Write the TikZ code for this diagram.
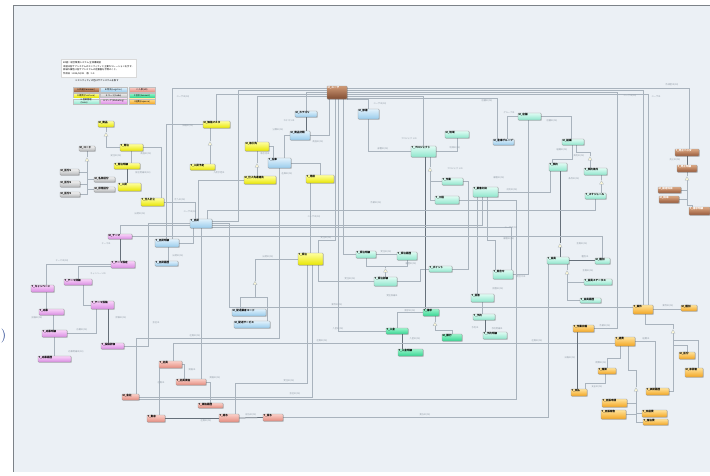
\documentclass[tikz,border=0pt]{standalone}
\usepackage{fontspec}
\newfontfamily\cjk{Noto Sans CJK JP}
\usetikzlibrary{shadows,shapes.geometric}
\pgfdeclarelayer{back}
\pgfdeclarelayer{lines}
\pgfsetlayers{back,lines,main}

\definecolor{bgpanel}{HTML}{EBF0F5}
\definecolor{framec}{HTML}{7C8288}
\definecolor{relc}{HTML}{A9B3BD}
\definecolor{idfc}{HTML}{66707A}
\definecolor{lblc}{HTML}{8F99A3}
\definecolor{brT}{HTML}{DDA984}\definecolor{brB}{HTML}{96593A}
\definecolor{lbT}{HTML}{E2F2FC}\definecolor{lbB}{HTML}{98CBEC}
\definecolor{yeT}{HTML}{FFFFA0}\definecolor{yeB}{HTML}{E8E600}
\definecolor{grT}{HTML}{F2F2F2}\definecolor{grB}{HTML}{B6B8BA}
\definecolor{miT}{HTML}{E0FCF4}\definecolor{miB}{HTML}{8EE6CC}
\definecolor{gnT}{HTML}{9CF4CC}\definecolor{gnB}{HTML}{34D692}
\definecolor{mgT}{HTML}{F9D4F9}\definecolor{mgB}{HTML}{DA8CE3}
\definecolor{saT}{HTML}{FBD0C9}\definecolor{saB}{HTML}{E48B7E}
\definecolor{orT}{HTML}{FFE39A}\definecolor{orB}{HTML}{F3A522}
\definecolor{triF}{HTML}{FBF6D6}
\definecolor{parenc}{HTML}{1D3C8C}

% entity box: name, style, x1, y1, x2, y2, title
\newcommand\entbox[7]{%
  \node[#2, minimum width={(#5)-(#3)}, minimum height={(#6)-(#4)},
        label={[enttxt]north west:#7}] (#1) at ({((#3)+(#5))/2},{((#4)+(#6))/2}) {};}
% brown entity box with light title
\newcommand\entboxw[7]{%
  \node[#2, minimum width={(#5)-(#3)}, minimum height={(#6)-(#4)},
        label={[enttxt, text=white]north west:#7}] (#1) at ({((#3)+(#5))/2},{((#4)+(#6))/2}) {};}

\begin{document}
\begin{tikzpicture}[x=1pt,y=-1pt,
  ent/.style={rectangle, rounded corners=0.6pt, draw=black!40, line width=0.25pt, inner sep=0pt,
              drop shadow={shadow xshift=0.7pt, shadow yshift=-0.7pt, opacity=0.28, fill=black}},
  enttxt/.style={anchor=north west, inner sep=0.6pt, font=\cjk\bfseries\fontsize{2.6}{3}\selectfont, text=black},
  brF/.style={top color=brT, bottom color=brB},
  lbF/.style={top color=lbT, bottom color=lbB},
  yeF/.style={top color=yeT, bottom color=yeB},
  grF/.style={top color=grT, bottom color=grB},
  miF/.style={top color=miT, bottom color=miB},
  gnF/.style={top color=gnT, bottom color=gnB},
  mgF/.style={top color=mgT, bottom color=mgB},
  saF/.style={top color=saT, bottom color=saB},
  orF/.style={top color=orT, bottom color=orB},
  brE/.style={ent, brF}, lbE/.style={ent, lbF}, yeE/.style={ent, yeF},
  grE/.style={ent, grF}, miE/.style={ent, miF}, gnE/.style={ent, gnF},
  mgE/.style={ent, mgF}, saE/.style={ent, saF}, orE/.style={ent, orF},
  swatch/.style={rectangle, draw=black!25, line width=0.2pt, inner sep=0pt, anchor=north west,
                 font=\cjk\fontsize{2.2}{2.5}\selectfont, align=left},
  rel/.style={draw=relc, line width=0.3pt},
  idf/.style={draw=idfc, line width=0.75pt},
  lbl/.style={font=\cjk\fontsize{2.2}{2.5}\selectfont, text=lblc, inner sep=0.3pt},
  tri/.style={regular polygon, regular polygon sides=3, minimum size=4.6pt, inner sep=0pt,
              draw=relc, fill=triF, line width=0.3pt},
  legtxt/.style={font=\cjk\fontsize{2.3}{2.8}\selectfont, anchor=north west, inner sep=0pt, align=left}
]
\useasboundingbox (0,0) rectangle (710,475);
\begin{pgfonlayer}{back}
\fill[white] (0,0) rectangle (710,475);
\fill[bgpanel] (13,5) rectangle (709.5,472);
\draw[framec, line width=0.6pt] (709.5,5) -- (13,5) -- (13,472);
\end{pgfonlayer}

% stray bracket at the left margin
\node[text=parenc, font=\fontsize{14}{14}\selectfont, inner sep=0pt] (paren) at (3.5,336) {)};

% ---------- legend ----------
\node[rectangle, fill=white, draw=black!15, line width=0.2pt, anchor=north west,
      minimum width=75, minimum height=18, inner sep=0pt] (legbox) at (61,59) {};
\node[legtxt] (legt1) at (63,61) {ER図：統合業務システム 全体構成図};
\node[legtxt] (legt2) at (63,65.5)
  {本図は各サブシステムのエンティティと主要なリレーションを示す。\\詳細な属性は各サブシステムの定義書を参照のこと。};
\node[legtxt] (legt3) at (63,72) {作成日：2015/04/01　版：1.0};
\node[legtxt] (legt4) at (75,79.5) {※エンティティの色はサブシステムを表す};
\node[swatch, brF, minimum width=26, minimum height=5] (sw1) at (73,87) {A:共通(Common)};
\node[swatch, lbF, minimum width=27, minimum height=5] (sw2) at (100,87) {B:物流(Logistics)};
\node[swatch, saF, minimum width=26, minimum height=5] (sw3) at (129,87) {C:人事(HR)};
\node[swatch, yeF, minimum width=26, minimum height=4.5] (sw4) at (73,93) {D:購買(Purchase)};
\node[swatch, grF, minimum width=27, minimum height=4.5] (sw5) at (100,93) {E:コード(Code)};
\node[swatch, gnF, minimum width=26, minimum height=4.5] (sw6) at (129,93) {F:会計(Account)};
\node[swatch, miF, minimum width=26, minimum height=5.5] (sw7) at (73,98.5) {G:営業管理\\(Sales)};
\node[swatch, mgF, minimum width=27, minimum height=5.5] (sw8) at (100,98.5) {H:マーケ(Marketing)};
\node[swatch, orF, minimum width=26, minimum height=5.5] (sw9) at (129,98.5) {I:経費(Expense)};

% ---------- entities ----------
\entboxw{B1}{brE, top color=brT!80!brB, bottom color=brB!85!black}{327}{86}{347}{99}{M\_ユーザ}
\entboxw{B2}{brE}{675}{149}{699}{156}{T\_売上ヘッダ}
\entboxw{B3}{brE}{677}{165}{697}{172}{T\_売上明細}
\entboxw{B4}{brE}{658}{187}{681}{193}{M\_勘定科目}
\entboxw{B5}{brE}{659}{196}{679}{203}{M\_税率}
\entboxw{B6}{brE}{689}{207}{710}{215}{T\_請求明細}

\entbox{L1}{lbE}{295}{111}{317}{117}{M\_カテゴリ}
\entbox{L2}{lbE}{358}{109}{379}{119}{M\_部署}
\entbox{L3}{lbE}{290}{131}{310}{140}{M\_商品分類}
\entbox{L4}{lbE}{268}{158}{291}{168}{T\_在庫}
\entbox{L5}{lbE}{493}{139}{514}{145}{M\_倉庫グループ}
\entbox{L6}{lbE}{190}{219}{212}{228}{T\_出荷}
\entbox{L7}{lbE}{155}{239}{179}{247}{T\_出荷明細}
\entbox{L8}{lbE}{155}{261}{178}{266}{T\_出荷履歴}
\entbox{L9}{lbE}{232}{309}{266}{316}{M\_配送業者コード}
\entbox{L10}{lbE}{234}{321}{270}{328}{M\_配送サービス}

\entbox{Y1}{yeE}{98}{121}{114}{127}{M\_商品}
\entbox{Y2}{yeE}{203}{121}{230}{128}{M\_価格マスタ}
\entbox{Y3}{yeE}{120}{144}{143}{151}{T\_発注}
\entbox{Y4}{yeE}{245}{142}{269}{151}{M\_取引先}
\entbox{Y5}{yeE}{114}{163}{140}{169}{T\_発注明細}
\entbox{Y6}{yeE}{190}{164}{215}{170}{T\_入荷予定}
\entbox{Y7}{yeE}{244}{176}{276}{184}{M\_仕入先連絡先}
\entbox{Y8}{yeE}{306}{175}{334}{183}{T\_見積}
\entbox{Y9}{yeE}{118}{183}{141}{191}{T\_入荷}
\entbox{Y10}{yeE}{141}{198}{164}{206}{T\_仕入計上}
\entbox{Y11}{yeE}{298}{253}{323}{265}{T\_受注}

\entbox{G1}{grE}{79}{146}{95}{151}{M\_コード}
\entbox{G2}{grE}{60}{169}{79}{175}{M\_区分1}
\entbox{G3}{grE}{94}{177}{115}{182}{M\_名称区分}
\entbox{G4}{grE}{60}{181}{80}{187}{M\_区分2}
\entbox{G5}{grE}{94}{187}{115}{192}{M\_状態区分}
\entbox{G6}{grE}{60}{192}{80}{197}{M\_区分3}

\entbox{P1}{miE}{518}{113}{541}{120}{M\_店舗}
\entbox{P2}{miE}{445}{131}{469}{138}{M\_地域}
\entbox{P3}{miE}{562}{139}{584}{145}{M\_組織}
\entbox{P4}{miE}{411}{146}{436}{157}{T\_プロジェクト}
\entbox{P5}{miE}{549}{163}{567}{171}{T\_契約}
\entbox{P6}{miE}{584}{168}{607}{175}{T\_契約条件}
\entbox{P7}{miE}{442}{178}{463}{185}{T\_作業}
\entbox{P8}{miE}{473}{187}{498}{197}{T\_顧客対応}
\entbox{P9}{miE}{585}{193}{606}{199}{T\_スケジュール}
\entbox{P10}{miE}{435}{196}{459}{204}{T\_工程}
\entbox{P11}{miE}{356}{251}{376}{258}{T\_受注明細}
\entbox{P12}{miE}{397}{252}{417}{260}{T\_受注履歴}
\entbox{P13}{miE}{547}{257}{569}{264}{T\_会員}
\entbox{P14}{miE}{595}{258}{610}{264}{M\_種別}
\entbox{P15}{miE}{429}{266}{452}{272}{T\_ポイント}
\entbox{P16}{miE}{493}{270}{513}{279}{T\_問合せ}
\entbox{P17}{miE}{374}{277}{397}{286}{T\_受注詳細}
\entbox{P18}{miE}{584}{279}{612}{285}{T\_会員ステータス}
\entbox{P19}{miE}{471}{294}{494}{302}{T\_回答}
\entbox{P20}{miE}{580}{298}{601}{303}{T\_会員履歴}
\entbox{P21}{miE}{473}{314}{495}{320}{T\_予約}
\entbox{P22}{miE}{483}{332}{507}{339}{T\_予約明細}

\entbox{N1}{gnE}{423}{309}{439}{316}{T\_請求}
\entbox{N2}{gnE}{386}{328}{408}{334}{T\_入金}
\entbox{N3}{gnE}{442}{334}{462}{341}{M\_銀行}
\entbox{N4}{gnE}{398}{349}{423}{356}{T\_入金明細}

\entbox{M1}{mgE}{108}{234}{132}{239}{M\_テーマ}
\entbox{M2}{mgE}{111}{261}{135}{268}{T\_テーマ設定}
\entbox{M3}{mgE}{64}{279}{92}{285}{T\_テーマ詳細}
\entbox{M4}{mgE}{31}{285}{54}{292}{T\_キャンペーン}
\entbox{M5}{mgE}{91}{301}{114}{309}{T\_テーマ投稿}
\entbox{M6}{mgE}{39}{309}{64}{315}{T\_応募}
\entbox{M7}{mgE}{42}{330}{67}{337}{T\_応募明細}
\entbox{M8}{mgE}{101}{343}{124}{349}{T\_投稿評価}
\entbox{M9}{mgE}{38}{356}{71}{362}{T\_応募履歴}

\entbox{S1}{saE}{159}{361}{182}{368}{T\_社員}
\entbox{S2}{saE}{176}{379}{206}{385}{T\_社員資格}
\entbox{S3}{saE}{122}{394}{139}{400}{M\_会社}
\entbox{S4}{saE}{198}{403}{223}{408}{T\_資格履歴}
\entbox{S5}{saE}{147}{415}{165}{422}{T\_勤怠}
\entbox{S6}{saE}{219}{414}{239}{422}{T\_給与}
\entbox{S7}{saE}{263}{414}{283}{421}{T\_賞与}

\entbox{O1}{orE}{633}{305}{653}{314}{T\_案件}
\entbox{O2}{orE}{681}{305}{697}{311}{M\_種別}
\entbox{O3}{orE}{573}{325}{594}{332}{T\_作業日報}
\entbox{O4}{orE}{615}{337}{635}{346}{T\_経費}
\entbox{O5}{orE}{679}{352}{695}{359}{M\_区分}
\entbox{O6}{orE}{685}{368}{703}{377}{M\_承認者}
\entbox{O7}{orE}{598}{368}{616}{374}{T\_精算}
\entbox{O8}{orE}{571}{389}{587}{396}{T\_支払}
\entbox{O9}{orE}{646}{388}{669}{395}{T\_承認履歴}
\entbox{O10}{orE}{602}{399}{627}{407}{T\_出張申請}
\entbox{O11}{orE}{601}{410}{626}{419}{T\_出張報告}
\entbox{O12}{orE}{642}{410}{667}{417}{T\_交通費}
\entbox{O13}{orE}{643}{419}{668}{425}{T\_宿泊費}

% ---------- triangles (subtype markers) ----------
\node[tri] (tY1) at (106,135) {};
\node[tri] (tG1) at (87,160) {};
\node[tri] (tY2) at (210,144) {};
\node[tri] (tY4) at (257,166) {};
\node[tri] (tL) at (255,283.5) {};
\node[tri] (tP) at (385.5,271) {};
\node[tri] (tN) at (435,324.5) {};
\node[tri] (tP4) at (430,170) {};
\node[tri] (tP3) at (590,159) {};
\node[tri] (tP6) at (601.5,183) {};
\node[tri] (tP5) at (560,246) {};
\node[tri] (tP13) at (567,273) {};
\node[tri] (tO1) at (673,332) {};
\node[tri] (tO4) at (636,390) {};
\node[tri] (tB3) at (687,179) {};

% ---------- connectors ----------
\begin{pgfonlayer}{lines}
% from the user master
\draw[rel] ([yshift=4pt]B1.west) -| ([xshift=5pt]L7.north);
\draw[rel] ([yshift=2pt]B1.west) -- (238,90.5) |- ([yshift=2pt]L6.east);
\draw[rel] (B1.west) -| (L1.north);
\draw[rel] ([yshift=-2pt]B1.west) -| (Y2.north);
\draw[rel] ([yshift=-4pt]B1.west) -| (Y4.north);
\draw[rel] ([xshift=-1.5pt]B1.south) -- (335.5,240) -| ([xshift=8pt]Y11.north);
\draw[rel] ([xshift=1pt]B1.south) |- (N2.west);
\draw[rel] ([xshift=6pt]B1.south) |- (P11.west);
\draw[rel] (B1.south east) -| (L2.north);
\draw[rel] ([xshift=-8pt]B1.south) |- (L3.east);
\draw[rel] ([yshift=4pt]B1.east) -| ([xshift=2pt]B2.north);
\draw[rel] ([yshift=2pt]B1.east) -| (O1.north);
\draw[rel] (B1.east) -- (617,92.5) |- (O3.east);
\draw[rel] ([yshift=-2pt]B1.east) -| ([xshift=5pt]O1.north);
\draw[rel] ([yshift=-4pt]B1.east) -| (P4.north);
\draw[rel] ([yshift=-5.5pt]B1.east) -| ([xshift=-6pt]L5.north);

% logistics / purchase block
\draw[idf] (L1.south) -- (L1.south |- L3.north);
\draw[rel] (L3.west) -| ([xshift=5pt]L4.north);
\draw[rel] (Y4.south) -- (tY4.north);
\draw[rel] (tY4.south) -- (tY4.south |- Y7.north);
\draw[rel] (Y4.east) -| ([xshift=-6pt]L4.north);
\draw[rel] (L4.south) -- (279.5,338) -| ([xshift=6pt]S3.north);
\draw[rel] (L4.east) -| (Y8.north);
\draw[rel] ([xshift=-9.5pt]Y8.south) -- (Y11.north);
\draw[rel] (Y11.west) -| (tL.north);
\draw[rel] (tL.south) -- (255,297) -| ([xshift=-9pt]L9.north);
\draw[rel] (tL.south) -- (255,297) -| ([xshift=15pt]L10.north);
\draw[rel] ([xshift=-3.5pt]Y11.south) -- (307,383) -| ([xshift=6pt]S6.north);
\draw[rel] ([xshift=1.5pt]Y11.south) |- (S3.east);
\draw[rel] ([xshift=8pt]Y11.south) |- (P17.west);

% sales block
\draw[rel] (P11.east) -- (P11.east -| P12.west);
\draw[rel] (P11.south) -- (366,266) -| (tP.north);
\draw[rel] (P12.south) -- (407,266) -| (tP.north);
\draw[rel] (tP.south) -- (tP.south |- P17.north);
\draw[rel] (P17.east) -- (420,281.5) |- (P15.west);
\draw[idf] ([xshift=1.5pt]P4.south) -- ([xshift=-6pt]N1.north);
\draw[rel] ([xshift=4pt]N1.south) -- (tN.north);
\draw[rel] (tN.south) -- (435,330) -| (N3.north);
\draw[rel] (N1.west) -| (N2.north);
\draw[idf] ([xshift=5pt]N2.south) -- ([xshift=-8.5pt]N4.north);
\draw[rel] ([xshift=2.5pt]S1.north) |- ([yshift=-2pt]O4.west);
\draw[rel] (L6.east) -- (229,223.5) |- ([yshift=2pt]O1.west);
\draw[rel] (L2.south) |- (P4.west);
\draw[rel] ([xshift=6.5pt]P4.south) -- (tP4.north);
\draw[rel] (tP4.south) |- (P7.west);
\draw[rel] (tP4.south) |- (P10.west);
\draw[rel] (P4.east) -| (P2.south);
\draw[rel] (P1.east) -| ([xshift=-2pt]P3.north);
\draw[rel] ([xshift=3.5pt]L5.north) |- (P1.west);
\draw[rel] ([xshift=-1.5pt]P1.south) |- (P16.east);
\draw[rel] ([xshift=-1pt]P3.south) -- (572,159) -| ([xshift=-6pt]P5.north);
\draw[rel] ([xshift=3pt]P3.south) -- (576,152) -| (tP3.north);
\draw[rel] (tP3.south) -- (tP3.south |- P6.north);
\draw[rel] ([xshift=6pt]P6.south) -- (tP6.north);
\draw[rel] (tP6.south) -- (tP6.south |- P9.north);
\draw[idf] ([xshift=2pt]P5.south) -- (tP5.north);
\draw[idf] (tP5.south) -- (tP5.south |- P13.north);
\draw[idf] (P13.east) -- (P13.east -| P14.west);
\draw[rel] ([xshift=9pt]P13.south) -- (tP13.north);
\draw[rel] (tP13.south) |- (P18.west);
\draw[rel] (tP13.south) |- (P20.west);
\draw[rel] (P8.east) -| ([xshift=-8pt]P5.south);
\draw[rel] ([xshift=-8pt]P8.south) -- ([xshift=-5pt]P19.north);
\draw[rel] ([xshift=-3pt]P8.south) |- ([yshift=-1.5pt]L6.east);
\draw[rel] ([xshift=2pt]P8.south) -- (487.5,240) -| ([xshift=-8pt]P16.north);
\draw[rel] ([yshift=-3.5pt]L6.east) -| ([xshift=8pt]P16.north);
\draw[rel] (P19.south) -- (P19.south |- P21.north);
\draw[idf] ([xshift=1pt]P21.south) -- ([xshift=1pt]P21.south |- P22.north);
\draw[rel] ([yshift=-2pt]S3.east) -- (516,399) |- (P10.east);
\draw[rel] (S7.east) -| ([xshift=-10pt]P13.south);
\draw[rel] (P7.east) -- (468,181.5) |- (P15.east);

% HR block
\draw[idf] (S6.east) -- (S7.west);
\draw[idf] (S5.east) -- (S5.east -| S6.west);
\draw[rel] ([xshift=-11pt]S1.south) -- ([xshift=-11pt]S1.south |- S5.north);
\draw[rel] (S1.east) -| ([xshift=-7pt]S2.north);
\draw[rel] (S2.east) -| (S4.north);

% marketing block
\draw[idf] (M1.south) -- (M1.south |- M2.north);
\draw[rel] (M1.north) |- ([yshift=-2pt]L6.west);
\draw[rel] (L6.west) -- (148,223.5) |- (M8.east);
\draw[rel] (M2.west) -| ([xshift=4pt]M4.north);
\draw[rel] (M3.north) |- ([yshift=-2pt]M2.west);
\draw[rel] ([xshift=5pt]M3.south) |- (M5.west);
\draw[rel] ([xshift=4pt]M4.south) -- ([xshift=4pt]M4.south |- M6.north);
\draw[rel] ([xshift=1.5pt]M6.south) -- ([xshift=1.5pt]M6.south |- M7.north);
\draw[rel] (M7.south) -- (M7.south |- M9.north);
\draw[rel] (M7.east) -| ([xshift=-6.5pt]M5.south);
\draw[idf] ([xshift=5.5pt]M5.south) -- ([xshift=5.5pt]M5.south |- M8.north);
\draw[rel] (M1.east) -| (P14.north);

% purchase / code block
\draw[rel] (Y1.south) -- (tY1.north);
\draw[rel] (tY1.south) |- (Y3.west);
\draw[rel] (G1.south) -- (tG1.north);
\draw[rel] (tG1.south) |- (G2.east);
\draw[rel] (tG1.south) |- (G4.east);
\draw[rel] (tG1.south) |- (G6.east);
\draw[rel] (tG1.south) |- (G3.west);
\draw[rel] (tG1.south) |- (G5.west);
\draw[rel] (Y3.south) -- (Y3.south |- Y5.north);
\draw[idf] (Y5.south) -- (Y5.south |- Y9.north);
\draw[rel] (Y3.east) -| ([xshift=8.5pt]Y10.north);
\draw[rel] ([xshift=-6.5pt]Y2.south) -- (tY2.north);
\draw[rel] (tY2.south) -- (tY2.south |- Y6.north);
\draw[rel] (Y2.west) -| ([xshift=-1pt]L7.north);
\draw[rel] (Y10.east) -| ([xshift=-6pt]L6.north);
\draw[rel] (Y7.west) -| ([xshift=-3pt]L6.north);
\draw[rel] ([xshift=6pt]L6.north) -- (207,210) -| (P9.south);
\draw[rel] ([xshift=-8pt]L6.south) |- (L7.east);
\draw[rel] ([xshift=1pt]L7.south) -- ([xshift=1pt]L7.south |- L8.north);
\draw[rel] (L6.south) -- (L6.south |- S2.north);

% expense block
\draw[rel] (O1.east) -- (O1.east -| O2.west);
\draw[rel] ([xshift=2pt]O1.south) -- (645,324) -| (tO1.north);
\draw[rel] (tO1.south) |- (O9.east);
\draw[rel] (tO1.south) -- (673,340) -| ([xshift=4pt]O6.north);
\draw[rel] (tO1.south) -- (673,345) -| (O5.north);
\draw[idf] ([xshift=-6.5pt]O3.south) -- ([xshift=-6.5pt]O3.south |- O8.north);
\draw[rel] ([xshift=-5pt]O4.south) -- (620,358) -| (O7.north);
\draw[rel] ([xshift=-2pt]O7.south) -- (605,383) -| ([xshift=6pt]O8.north);
\draw[rel] ([xshift=3pt]O4.south) -- (628,370) -| (tO4.north);
\draw[rel] (tO4.south) |- (O12.west);
\draw[rel] (tO4.south) |- (O13.west);
\draw[rel] (tO4.south) |- (O10.east);
\draw[rel] (tO4.south) |- (O11.east);
\draw[rel] (O4.east) -| ([xshift=-2.5pt]O9.north);

% common block (right)
\draw[idf] (B2.south) -- (B2.south |- B3.north);
\draw[rel] (B3.south) -- (tB3.north);
\draw[rel] (tB3.south) |- (B4.east);
\draw[rel] (tB3.south) |- (B5.east);
\draw[rel] (tB3.south) -- (687,205) -| ([xshift=-7pt]B6.north);
\end{pgfonlayer}

% ---------- relationship labels ----------
\node[lbl] (r1) at (183,97) {ユーザID(FK)};
\node[lbl] (r2) at (188,126) {価格ID(FK)};
\node[lbl] (r3) at (116,156) {発注ID(FK)};
\node[lbl] (r4) at (146,154) {商品ID(FK)};
\node[lbl] (r5) at (143,173) {発注明細ID(FK)};
\node[lbl] (r6) at (219,173) {入荷予定ID};
\node[lbl] (r7) at (180,200) {仕入ID(FK)};
\node[lbl] (r8) at (190,212) {ユーザID(FK)};
\node[lbl] (r9) at (140,214) {出荷ID(FK)};
\node[lbl] (r10) at (106,244) {テーマID};
\node[lbl] (r11) at (178,256) {出荷ID(FK)};
\node[lbl] (r12) at (62,261) {テーマID(FK)};
\node[lbl] (r13) at (98,274) {キャンペーンID};
\node[lbl] (r14) at (37,318) {投稿ID(FK)};
\node[lbl] (r15) at (82,329.5) {応募ID(FK)};
\node[lbl] (r16) at (76,352) {応募明細ID(FK)};
\node[lbl] (r17) at (121,318) {評価ID(FK)};
\node[lbl] (r18) at (156,323) {会社ID};
\node[lbl] (r19) at (195,335.5) {社員ID(FK)};
\node[lbl] (r20) at (161,383) {社員ID};
\node[lbl] (r21) at (192,369.5) {資格ID};
\node[lbl] (r22) at (215,377.5) {資格ID(FK)};
\node[lbl] (r23) at (206,421) {社員ID(FK)};
\node[lbl] (r24) at (251,415) {給与ID(FK)};
\node[lbl] (r25) at (425,414.5) {賞与ID(FK)};
\node[lbl] (r26) at (289,380.5) {受注ID(FK)};
\node[lbl] (r27) at (295,393.5) {会社ID(FK)};
\node[lbl] (r28) at (268,256.5) {出荷ID(FK)};
\node[lbl] (r29) at (326,237.5) {受注ID(FK)};
\node[lbl] (r30) at (350,279) {受注ID(FK)};
\node[lbl] (r31) at (386,252) {受注ID(FK)};
\node[lbl] (r32) at (411,264) {履歴ID(FK)};
\node[lbl] (r33) at (392,296) {受注詳細ID};
\node[lbl] (r34) at (337,305) {案件ID(FK)};
\node[lbl] (r35) at (338,328.5) {入金ID(FK)};
\node[lbl] (r36) at (322,341) {社員ID(FK)};
\node[lbl] (r37) at (410,310.5) {請求ID(FK)};
\node[lbl] (r38) at (415,339) {入金ID(FK)};
\node[lbl] (r39) at (383,148.5) {部署ID(FK)};
\node[lbl] (r40) at (380,104) {ユーザID(FK)};
\node[lbl] (r41) at (409,139) {プロジェクトID};
\node[lbl] (r42) at (455,147.5) {地域ID(FK)};
\node[lbl] (r43) at (455,168.5) {プロジェクトID};
\node[lbl] (r44) at (289,121) {カテゴリID};
\node[lbl] (r45) at (278,130) {分類ID(FK)};
\node[lbl] (r46) at (318,142) {商品ID(FK)};
\node[lbl] (r47) at (265,154) {取引先ID};
\node[lbl] (r48) at (287,174) {在庫ID(FK)};
\node[lbl] (r49) at (376,202.5) {作業ID(FK)};
\node[lbl] (r50) at (314,217) {ユーザID(FK)};
\node[lbl] (r51) at (487,100.5) {店舗ID(FK)};
\node[lbl] (r52) at (509,112.5) {グループID};
\node[lbl] (r53) at (552,120.5) {店舗ID(FK)};
\node[lbl] (r54) at (562,149.5) {組織ID(FK)};
\node[lbl] (r55) at (579,155.5) {契約ID(FK)};
\node[lbl] (r56) at (574,179) {条件ID(FK)};
\node[lbl] (r57) at (499,178) {顧客ID(FK)};
\node[lbl] (r58) at (512,189.5) {対応ID(FK)};
\node[lbl] (r59) at (511,227.5) {ユーザID(FK)};
\node[lbl] (r60) at (509,239) {顧客ID(FK)};
\node[lbl] (r61) at (582,244) {会員ID(FK)};
\node[lbl] (r62) at (585,257) {種別ID};
\node[lbl] (r63) at (588,271) {会員ID(FK)};
\node[lbl] (r64) at (521,276.5) {問合せID};
\node[lbl] (r65) at (498,288.5) {回答ID(FK)};
\node[lbl] (r66) at (475,327.5) {予約ID};
\node[lbl] (r67) at (497,328.5) {予約明細ID};
\node[lbl] (r68) at (668,306) {案件ID(FK)};
\node[lbl] (r69) at (605,325.5) {作業ID(FK)};
\node[lbl] (r70) at (646,339) {経費ID};
\node[lbl] (r71) at (570,358) {日報ID(FK)};
\node[lbl] (r72) at (601,362.5) {精算ID(FK)};
\node[lbl] (r73) at (597,386.5) {支払ID(FK)};
\node[lbl] (r74) at (537,341) {社員ID(FK)};
\node[lbl] (r75) at (675,159.5) {売上ID(FK)};
\node[lbl] (r76) at (656,97) {ユーザID};
\node[lbl] (r77) at (630,96) {ユーザID(FK)};
\node[lbl] (r78) at (672,85) {作成者ID(FK)};
\end{tikzpicture}
\end{document}
